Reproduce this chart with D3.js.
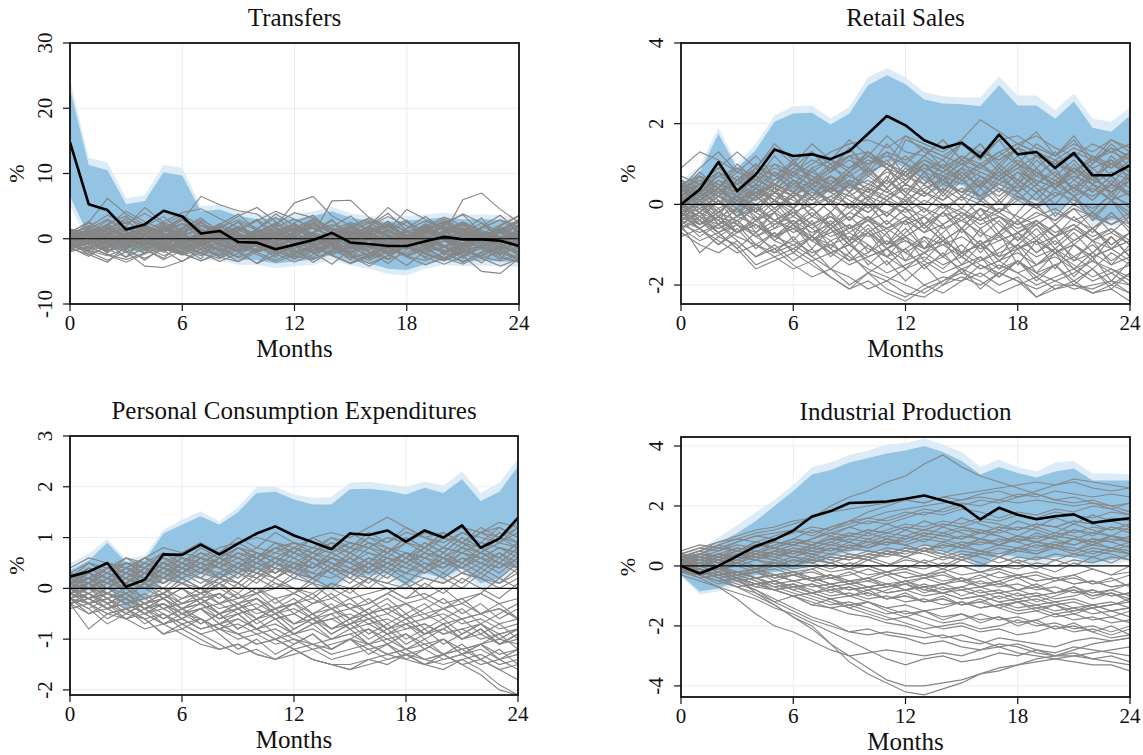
<!DOCTYPE html>
<html>
<head>
<meta charset="utf-8">
<script src="https://cdn.jsdelivr.net/npm/d3@7"></script>
<style>
  html, body { margin: 0; padding: 0; background: #fff; }
  svg { display: block; }
  text { font-family: "Liberation Serif", "Times New Roman", serif; fill: #111; }
</style>
</head>
<body>
<svg id="chart" width="1143" height="755"></svg>
<script>
// Horizon in months
const months = d3.range(0, 25);
const xTicks = [0, 6, 12, 18, 24];

// ---------- Transfers ----------
const transfersTicks = [30, 20, 10, 0, -10];
const transfersIrf = [14.8,5.3,4.4,1.4,2.2,4.3,3.4,0.8,1.2,-0.5,-0.6,-1.6,-0.9,-0.2,0.9,-0.6,-0.8,-1.1,-1.1,-0.4,0.3,-0.1,-0.1,-0.3,-1.1];
const transfersInnerUp = [23,11.3,10.5,5.3,5.8,10.2,9.7,4.2,4.5,3.5,3.0,3.2,3.0,3.5,4.2,3.2,2.8,2.6,2.8,3.0,3.3,3.0,3.0,2.9,2.5];
const transfersOuterUp = [24.5,12.4,11.7,6.2,6.7,11.3,10.9,5.0,5.2,4.2,3.7,3.9,3.7,4.2,4.9,3.9,3.5,3.3,3.5,3.7,4.0,3.7,3.7,3.6,3.2];
const transfersInnerLo = [6.5,0.5,-0.5,-2.0,-1.8,-1.0,-1.5,-2.5,-2.5,-3.2,-3.3,-3.8,-3.5,-3.2,-2.5,-3.4,-3.8,-4.6,-4.8,-3.9,-3.3,-3.5,-3.4,-3.5,-3.6];
const transfersOuterLo = [5.0,-0.5,-1.3,-2.8,-2.6,-1.8,-2.3,-3.3,-3.3,-4.0,-4.0,-4.5,-4.2,-4.0,-3.3,-4.1,-4.6,-5.4,-5.6,-4.6,-4.0,-4.2,-4.1,-4.2,-4.3];
const transfersPlacebo = [
  [0.5,1.2,0.3,-0.8,0.4,1.5,0.2,-0.5,1.1,0.3,-0.9,0.6,1.4,0.2,-0.7,0.8,1.6,0.4,-0.3,1.0,0.1,-1.2,0.5,1.3,0.2],
  [-1.0,-2.1,-0.8,-1.9,-3.0,-1.6,-2.4,-1.1,-2.8,-3.5,-2.0,-1.3,-2.6,-3.2,-1.8,-2.9,-2.2,-1.4,-2.7,-3.3,-2.1,-1.6,-2.8,-3.4,-2.5],
  [0.2,2.5,6.2,3.8,2.1,1.0,2.9,1.5,0.3,1.8,0.6,-0.5,1.2,2.4,0.8,-0.4,1.0,2.2,0.5,-0.8,0.9,1.7,0.2,-0.6,0.7],
  [-0.5,0.8,2.0,4.2,2.6,1.4,2.8,6.5,5.2,4.3,3.8,1.6,0.4,2.1,1.0,-0.6,0.9,1.8,0.3,1.4,2.6,0.9,-0.3,1.1,0.4],
  [1.0,0.0,-1.3,0.6,1.8,0.5,-0.9,0.8,2.3,0.9,-0.4,2.0,5.5,6.5,3.5,2.0,3.2,1.2,0.0,1.6,3.0,1.4,0.2,1.9,3.6],
  [-1.8,-1.2,-2.5,-3.6,-2.3,-1.0,-2.2,-3.4,-1.9,-0.8,-2.1,-3.3,-2.0,-1.1,-2.5,-3.7,-2.4,-1.2,-2.6,-1.5,-2.9,-3.9,-2.5,-1.3,-2.0],
  [0.8,2.0,0.6,1.9,4.8,2.5,1.1,2.4,0.9,-0.3,1.5,3.8,2.0,0.7,5.8,5.9,3.2,1.8,0.4,2.3,1.2,-0.2,1.6,2.9,1.0],
  [-0.3,-1.4,-0.2,1.0,-0.5,-1.7,-0.6,0.7,-0.8,-2.0,-3.8,-2.4,-1.0,-2.2,-0.9,0.4,-1.0,-2.3,-0.7,0.5,-1.1,-2.6,-5.0,-5.3,-3.0],
  [1.3,0.5,1.7,0.2,-1.0,0.4,1.6,2.9,1.3,0.1,1.4,0.5,-0.6,0.9,2.2,1.0,-0.2,1.3,4.5,3.0,1.5,0.3,1.8,0.8,-0.5],
  [-1.2,-0.4,-1.6,-2.8,-1.4,-0.3,-1.5,-0.6,0.5,-0.7,-1.9,-1.0,0.2,-1.1,-2.4,-1.3,-0.1,-1.4,-2.7,-1.5,-0.3,-1.6,-0.5,-1.8,-2.9],
  [0.0,0.9,-0.4,0.7,1.9,0.6,-0.6,0.8,1.7,3.5,4.8,2.6,1.0,2.3,0.9,-0.3,1.1,2.0,0.6,-0.5,0.8,6.0,7.0,4.5,2.5],
  [-0.7,-2.0,-3.3,-2.0,-4.2,-4.4,-3.4,-2.1,-3.5,-2.2,-0.9,-2.3,-3.6,-2.4,-1.1,-2.5,-3.8,-2.6,-1.3,-2.8,-3.9,-2.7,-1.4,-2.9,-3.6],
  [0.6,-0.3,0.9,2.6,1.2,0.0,1.4,2.5,1.0,-0.2,1.2,0.1,1.5,0.3,-0.9,0.6,2.0,4.8,2.6,1.2,-0.1,1.3,0.4,-0.8,0.9],
  [-0.9,0.2,-0.9,-2.1,-0.8,0.3,-1.0,-2.2,-1.0,0.1,-1.2,-2.5,-1.2,0.0,-1.3,-2.7,-4.2,-2.5,-1.0,-2.3,-3.3,-2.1,-0.9,-2.3,-1.1],
  [0.3,1.5,3.0,1.6,0.4,1.7,0.5,-0.6,0.7,1.9,0.6,-0.7,0.8,2.1,0.9,-0.4,0.9,2.3,1.1,-0.1,1.2,2.6,1.3,0.0,1.4],
  [-0.2,-1.0,0.2,-0.9,0.4,-0.8,-2.0,-0.8,0.5,-0.9,0.3,1.5,0.2,-1.1,0.1,1.3,0.0,-1.3,-0.1,1.1,-0.2,-1.5,-0.3,1.0,-0.4],
  [1.1,2.4,1.0,-0.1,1.2,2.6,4.0,4.6,3.1,1.7,0.4,1.8,3.0,1.6,0.2,1.5,2.8,1.4,0.1,1.3,2.7,1.2,0.0,1.4,2.6],
  [-1.5,-2.4,-1.3,-0.1,-1.2,-2.6,-1.4,-0.2,-1.6,-2.9,-1.7,-0.5,-1.8,-3.1,-1.9,-0.6,-2.0,-3.2,-2.1,-0.8,-2.2,-3.5,-2.2,-0.9,-2.4],
  [0.4,-0.6,0.6,-0.4,0.9,2.1,0.7,-0.5,0.8,-0.3,0.9,2.2,0.8,-0.6,0.7,1.9,0.5,-0.8,0.4,1.7,0.3,-1.0,0.2,1.6,0.1],
  [-0.6,0.5,1.6,0.3,-0.9,0.2,-1.0,0.1,1.3,0.0,-1.3,-0.2,-1.5,-0.3,0.8,-0.5,-1.7,-0.6,0.6,-0.7,-1.9,-0.8,0.4,-0.9,-2.1],
  [0.9,0.1,1.3,3.2,1.9,0.6,1.8,0.5,1.7,2.9,1.6,0.3,1.5,2.8,1.4,0.2,1.3,2.6,1.2,0.0,1.1,2.5,1.0,-0.2,0.9],
  [-1.1,-0.3,-1.5,-0.4,-1.6,-0.6,-1.8,-0.7,-1.9,-0.9,-2.1,-1.0,-2.3,-1.2,-2.4,-1.3,-2.6,-1.5,-2.7,-1.6,-2.9,-1.8,-3.0,-1.9,-3.2],
  [0.1,-0.8,-1.9,-1.2,-0.3,-1.4,-2.5,-1.6,-0.7,-1.8,-0.9,0.3,-0.6,-1.7,-0.8,0.2,-0.9,-2.0,-1.1,0.1,-1.0,-2.1,-1.2,-0.1,-1.3],
  [0.7,1.8,3.6,2.3,3.9,2.2,3.6,2.0,0.9,2.6,1.3,0.2,1.6,3.1,1.7,0.5,1.9,3.4,2.0,0.7,2.2,3.8,2.4,1.0,2.6],
  [-0.4,0.3,-0.6,0.4,-0.5,0.6,-0.4,0.7,-0.3,0.8,-0.2,0.9,-0.1,1.0,0.0,-1.0,0.1,-0.9,0.2,-0.8,0.3,-0.7,0.4,-0.6,0.5],
  [-1.4,-0.7,0.1,-0.9,-1.8,-0.8,0.3,-0.7,-1.9,-0.9,0.2,-0.8,-2.0,-1.1,0.0,-1.0,-2.1,-1.2,-0.1,-1.1,-2.2,-1.3,-0.2,-1.2,-2.3],
  [0.0,1.0,2.2,1.1,0.0,1.2,2.4,1.3,0.1,1.4,2.8,4.2,3.0,1.6,0.3,1.7,3.1,1.8,0.5,1.9,3.3,2.0,0.7,2.1,3.5],
  [-0.8,-1.6,-0.5,0.6,-0.4,-1.5,-0.3,0.8,-0.2,-1.4,-0.1,1.0,0.0,-1.3,0.1,1.2,0.2,-1.2,0.3,1.4,0.4,-1.1,0.5,1.6,0.6],
  [1.5,0.8,-0.4,0.6,1.7,0.7,-0.5,0.5,1.8,0.6,-0.6,0.4,1.9,0.5,-0.7,0.3,2.0,0.4,-0.8,0.2,2.1,0.3,-0.9,0.1,2.2],
  [-2.0,-1.3,-2.4,-3.2,-2.2,-1.1,-2.3,-3.4,-2.3,-1.2,-2.4,-3.6,-2.5,-1.3,-2.6,-3.8,-2.7,-1.4,-2.8,-4.0,-2.9,-1.5,-3.0,-4.2,-3.1],
  [0.3,-0.5,0.8,1.8,0.7,-0.3,1.0,2.1,0.9,-0.2,1.1,2.3,4.0,3.2,1.3,2.5,1.4,0.2,1.5,2.7,1.6,0.4,1.7,2.9,1.8],
  [-0.1,0.6,-0.3,-1.3,-0.4,0.5,-0.5,-1.5,-0.6,0.4,-0.7,-1.7,-0.8,0.3,-0.9,-1.9,-1.0,0.2,-1.1,-2.1,-1.2,0.1,-1.3,-2.3,-1.4],
  [0.2,-0.9,1.1,-0.6,0.8,-1.2,0.5,1.6,-0.4,0.9,-1.1,0.3,1.7,-0.2,-1.6,0.6,1.2,-0.9,0.4,-1.4,0.7,1.5,-0.3,0.2,-1.0],
  [-0.5,0.7,-1.3,0.4,1.6,-0.2,-1.4,0.6,-0.8,1.3,0.1,-1.5,0.8,-0.6,1.1,-1.0,0.3,1.4,-0.7,0.9,-1.2,0.2,1.0,-0.8,0.5],
  [0.9,1.6,0.2,-1.1,0.5,1.9,0.7,-0.6,1.5,0.2,-0.9,1.2,2.3,0.8,-0.5,1.6,0.4,-1.0,1.1,2.0,0.6,-0.7,1.3,0.3,-0.4],
  [-1.3,-0.2,-1.8,-0.7,0.4,-1.1,-2.3,-0.9,0.2,-1.5,-0.4,-1.9,-0.8,0.3,-1.2,-2.2,-1.0,0.1,-1.6,-0.5,-2.0,-1.1,0.0,-1.7,-0.6],
  [0.0,0.5,-0.3,0.9,-0.5,0.3,1.2,-0.1,0.7,-0.6,0.4,1.0,-0.3,0.6,-0.8,0.2,0.9,-0.4,0.5,-0.9,0.1,0.8,-0.5,0.4,-0.2],
  [0.6,-0.4,-1.5,0.2,1.3,-0.3,0.9,2.0,0.5,-0.8,0.8,1.8,0.3,-1.0,0.6,1.7,0.1,-1.2,0.4,1.5,-0.1,-1.3,0.2,1.4,-0.2],
  [-0.8,0.3,1.4,0.1,-1.0,-2.1,-0.7,0.5,-0.9,-2.0,-0.6,0.6,-0.8,-2.2,-1.0,0.3,-1.1,-2.4,-1.2,0.1,-1.3,-2.5,-1.4,0.0,-1.5],
  [0.3,1.1,-0.2,-1.0,0.6,1.4,0.0,-1.1,0.5,1.6,0.2,-1.2,0.4,1.8,0.4,-1.3,0.3,1.9,0.5,-1.4,0.2,2.1,0.6,-1.5,0.1],
  [-0.2,-1.3,-0.4,0.7,-0.6,-1.6,-0.3,0.9,-0.5,-1.8,-0.2,1.1,-0.4,-1.9,-0.1,1.2,-0.3,-2.1,0.0,1.3,-0.2,-2.2,0.1,1.4,-0.1],
  [1.2,0.4,1.8,0.6,-0.5,1.0,2.2,0.9,-0.3,1.3,0.1,-0.8,1.2,2.5,1.0,-0.2,1.4,0.3,-0.9,1.1,2.4,0.8,-0.4,1.5,0.6],
  [-0.6,-1.7,-0.9,0.2,-1.1,-0.2,-1.6,-2.6,-1.3,-0.3,-1.7,-0.6,0.5,-0.9,-2.1,-1.0,0.2,-1.3,-2.4,-1.1,0.1,-1.5,-2.7,-1.3,-0.2],
  [0.4,0.0,0.7,1.5,0.3,-0.7,0.6,-0.4,0.9,1.8,0.5,-0.6,0.8,-0.2,1.1,2.0,0.7,-0.5,1.0,-0.1,1.3,2.2,0.8,-0.4,1.2],
  [-0.9,-1.8,-2.6,-1.5,-0.6,-1.9,-1.0,-2.3,-3.0,-1.7,-0.8,-2.0,-3.1,-1.9,-0.9,-2.3,-3.3,-2.0,-1.0,-2.4,-3.4,-2.1,-1.1,-2.6,-3.5],
  [0.1,0.8,0.2,-0.5,0.4,-0.3,0.6,1.3,0.3,-0.4,0.7,-0.1,0.9,1.6,0.5,-0.2,0.8,0.0,1.0,1.8,0.6,-0.1,0.9,0.1,1.2],
  [-0.3,0.4,-0.6,-1.4,-0.5,0.6,-0.2,-1.1,0.1,0.9,-0.3,-1.3,-0.1,0.8,-0.4,-1.5,-0.2,0.7,-0.5,-1.6,-0.3,0.6,-0.6,-1.8,-0.4],
  [0.7,-0.1,0.5,1.2,2.1,0.9,-0.2,0.6,1.4,0.4,-0.5,0.8,1.6,0.5,-0.4,0.9,1.8,0.6,-0.3,1.0,1.9,0.7,-0.2,1.1,2.0],
  [-1.6,-0.8,-1.9,-1.1,-2.2,-1.4,-0.5,-1.7,-2.6,-1.5,-0.6,-1.8,-2.8,-1.6,-0.7,-2.0,-3.0,-1.8,-0.8,-2.1,-3.1,-1.9,-0.9,-2.2,-3.2],
  [0.5,1.4,0.7,-0.2,0.9,0.1,-0.8,0.4,1.3,0.2,-0.7,0.5,1.5,0.4,-0.6,0.6,1.6,0.5,-0.5,0.8,1.8,0.6,-0.4,0.9,1.9],
  [-0.1,-0.6,0.3,-0.8,-0.1,-1.0,0.2,-0.7,-1.6,-0.5,0.4,-0.6,-1.5,-0.3,0.5,-0.4,-1.4,-0.2,0.6,-0.3,-1.3,-0.1,0.7,-0.2,-1.2],
  [0.8,0.2,-0.7,0.5,1.5,0.3,-0.6,0.8,1.9,0.6,-0.5,1.0,2.1,0.8,-0.3,1.2,2.4,1.0,-0.1,1.4,2.6,1.1,0.0,1.5,2.8],
  [0.4,-1.5,2.1,0.3,-2.2,1.5,3.1,-0.4,-2.6,1.2,2.8,0.1,-2.4,0.9,3.0,-0.3,-2.8,1.4,2.9,0.2,-2.5,1.1,3.2,-0.6,-2.7],
  [-1.0,1.8,-0.6,-2.9,0.5,2.4,-1.3,-3.1,0.7,2.6,-1.0,-2.9,0.9,2.9,-1.2,-3.3,0.6,2.7,-0.9,-3.0,1.0,2.5,-1.4,-3.2,0.4],
  [0.8,2.7,0.4,-1.7,1.9,3.4,1.0,-1.2,2.2,3.8,1.2,-1.0,2.5,3.6,0.8,-1.5,2.0,3.9,1.3,-1.1,2.4,3.7,0.9,-1.6,2.1],
  [-0.6,-2.4,-3.6,-1.1,0.6,-1.8,-3.5,-1.5,0.8,-2.0,-3.8,-1.4,0.5,-2.1,-3.9,-1.6,0.3,-2.3,-4.1,-1.8,0.4,-2.0,-3.7,-1.3,0.6],
  [1.4,0.2,2.3,3.5,1.1,-0.8,1.7,3.2,0.9,-1.1,1.5,3.3,1.2,-0.9,1.8,3.5,1.0,-1.2,1.6,3.4,1.3,-1.0,1.9,3.6,1.1],
  [-1.7,-0.3,-2.2,0.4,-1.5,-3.0,-0.6,1.3,-1.3,-2.8,-0.4,1.5,-1.1,-2.9,-0.7,1.2,-1.4,-3.1,-0.5,1.4,-1.2,-3.0,-0.8,1.1,-1.5],
  [0.2,1.3,-1.0,1.8,-0.8,2.2,-0.5,-2.3,0.9,2.6,-0.2,-2.1,1.1,2.4,-0.4,-2.4,0.8,2.7,-0.1,-2.2,1.0,2.5,-0.3,-2.5,0.7],
  [-0.4,-1.9,0.6,-1.4,-3.3,-1.2,1.0,-0.9,-2.9,-0.8,1.2,-1.1,-3.1,-0.7,1.1,-1.0,-3.0,-0.9,1.3,-1.2,-3.2,-0.6,1.0,-1.3,-3.4],
  [1.0,-0.4,1.4,2.9,0.5,-1.3,1.0,2.7,0.3,-1.5,0.8,2.5,0.1,-1.7,0.6,2.3,-0.1,-1.9,0.4,2.1,-0.3,-2.1,0.2,1.9,-0.5],
  [-0.2,0.9,2.8,1.2,-0.6,1.6,3.3,1.1,-0.9,1.3,3.0,0.8,-1.1,1.0,2.8,0.6,-1.3,0.9,2.6,0.4,-1.4,0.7,2.4,0.2,-1.6],
  [-1.3,-2.7,-1.0,0.9,-1.6,-3.2,-1.8,0.2,-1.9,-3.5,-1.5,0.4,-1.7,-3.6,-1.9,0.1,-2.0,-3.8,-1.6,0.3,-1.8,-3.7,-2.0,0.0,-2.1],
  [0.6,-0.7,-2.0,0.2,1.9,-0.4,-2.2,0.5,2.2,-0.2,-2.0,0.7,2.4,0.0,-1.9,0.9,2.6,0.2,-1.7,1.0,2.7,0.3,-1.6,1.2,2.9]
];

// ---------- Retail Sales ----------
const retailTicks = [4, 2, 0, -2];
const retailIrf = [0.0,0.37,1.05,0.33,0.74,1.36,1.2,1.24,1.12,1.32,1.75,2.19,1.96,1.59,1.4,1.53,1.17,1.73,1.24,1.3,0.9,1.27,0.72,0.72,0.97];
const retailInnerUp = [0.5,0.8,1.75,0.9,1.35,2.05,2.25,2.27,1.98,2.25,2.95,3.2,2.98,2.6,2.5,2.48,2.43,2.95,2.45,2.45,2.12,2.55,1.9,1.8,2.2];
const retailOuterUp = [0.6,0.95,1.9,1.0,1.5,2.2,2.43,2.45,2.13,2.42,3.15,3.38,3.15,2.77,2.68,2.65,2.65,3.17,2.7,2.7,2.33,2.75,2.12,2.05,2.4];
const retailInnerLo = [-0.1,0.0,0.3,-0.2,0.1,0.6,0.3,0.3,0.3,0.4,0.7,1.1,0.9,0.6,0.4,0.5,0.1,0.5,0.1,0.1,-0.2,0.1,-0.4,-0.4,-0.3];
const retailOuterLo = [-0.25,-0.15,0.15,-0.35,-0.05,0.45,0.15,0.15,0.15,0.25,0.55,0.95,0.75,0.45,0.25,0.35,-0.05,0.35,-0.05,-0.05,-0.35,-0.05,-0.55,-0.55,-0.45];
const retailPlacebo = [
  [0.9,1.3,1.1,0.8,0.6,0.9,0.7,1.0,1.3,1.5,1.6,1.4,1.7,1.5,1.3,1.6,2.1,1.8,1.5,1.3,1.0,1.2,0.9,1.1,0.8],
  [-0.5,-1.2,-0.8,-1.0,-1.5,-1.3,-1.6,-1.4,-1.8,-2.1,-1.7,-1.9,-1.6,-2.0,-1.8,-1.9,-1.5,-1.7,-1.9,-2.3,-2.0,-2.0,-2.2,-2.1,-2.4],
  [0.3,0.5,0.2,0.6,0.4,0.8,0.5,0.9,1.1,0.8,1.3,1.0,1.7,1.3,1.1,1.5,1.2,1.6,1.7,1.4,1.2,1.5,1.3,1.6,1.4],
  [-0.2,-0.6,-0.3,-0.7,-0.5,-0.9,-1.1,-0.8,-1.2,-1.0,-1.4,-1.7,-1.5,-1.3,-1.6,-1.2,-1.5,-1.8,-1.4,-1.7,-1.5,-1.3,-1.6,-1.2,-1.5],
  [0.5,0.3,0.7,0.5,0.9,1.5,1.1,1.3,1.0,1.2,1.3,0.9,1.2,0.8,1.1,0.7,1.0,0.6,0.9,0.5,0.8,0.4,0.7,0.3,0.6],
  [0.0,-0.3,0.1,-0.2,0.2,-0.1,0.3,0.0,0.4,0.1,-0.2,0.2,-0.1,0.3,0.0,-0.3,0.1,-0.2,0.2,-0.1,-0.4,0.0,-0.3,0.1,-0.2],
  [-0.7,-1.0,-1.2,-0.9,-1.3,-1.1,-1.5,-1.8,-1.6,-2.0,-1.7,-2.1,-2.3,-2.0,-2.2,-1.9,-1.7,-2.0,-1.8,-2.3,-2.1,-1.9,-2.2,-2.0,-2.2],
  [0.2,0.6,0.4,0.8,0.6,0.4,0.7,0.5,0.8,1.1,0.8,1.0,0.7,0.5,0.8,0.6,0.9,0.7,1.0,0.8,0.6,0.9,0.7,1.0,0.8],
  [-0.4,-0.2,-0.6,-0.4,-0.8,-0.6,-0.4,-0.7,-0.5,-0.9,-0.7,-1.0,-0.8,-1.1,-0.9,-1.2,-1.0,-0.8,-1.1,-0.9,-1.2,-1.0,-1.3,-1.1,-0.9],
  [0.1,0.3,0.0,0.2,0.5,0.3,0.6,0.4,0.7,0.5,0.3,0.6,1.6,1.4,1.2,1.5,1.3,1.1,1.4,1.2,1.0,1.3,1.1,1.4,1.2],
  [-0.6,-0.9,-0.7,-1.1,-1.6,-1.4,-1.2,-1.5,-1.8,-2.1,-1.9,-2.2,-2.4,-2.1,-1.9,-1.6,-1.8,-1.5,-1.7,-2.0,-1.8,-1.6,-1.9,-1.7,-2.0],
  [0.4,0.2,0.5,0.3,0.1,0.4,0.2,0.5,0.7,0.4,0.6,0.3,0.1,0.4,0.6,0.3,0.5,0.8,0.6,0.3,0.5,0.2,0.4,0.1,0.3],
  [-0.1,0.2,0.4,0.1,-0.2,-0.5,-0.3,-0.6,-0.9,-0.7,-1.0,-1.3,-1.1,-0.8,-1.0,-1.3,-1.6,-1.4,-1.7,-1.5,-1.2,-1.5,-1.8,-1.6,-1.9],
  [0.6,0.4,0.7,0.9,0.7,0.5,0.8,1.1,0.9,1.2,1.0,1.3,1.1,1.4,1.2,1.0,1.3,1.1,1.4,1.2,1.0,0.8,1.1,1.3,1.5],
  [-0.3,-0.5,-0.2,-0.4,-0.1,-0.4,-0.7,-0.5,-0.8,-0.6,-0.3,-0.6,-0.4,-0.7,-0.5,-0.2,-0.5,-0.3,-0.6,-0.4,-0.7,-0.5,-0.8,-0.6,-0.9],
  [0.2,0.0,0.3,0.6,0.8,0.6,0.9,0.7,0.5,0.8,1.1,0.9,0.7,1.0,0.8,1.1,0.9,1.2,1.5,1.7,1.4,1.2,1.5,1.3,1.1],
  [-0.8,-0.6,-0.9,-1.2,-1.0,-1.3,-1.1,-1.4,-1.2,-1.5,-1.3,-1.1,-1.4,-1.2,-1.5,-1.3,-1.6,-1.4,-1.2,-1.5,-1.3,-1.6,-1.4,-1.7,-1.5],
  [0.0,0.2,-0.1,0.1,0.3,0.1,-0.2,0.0,0.2,0.5,0.3,0.1,0.4,0.2,0.5,0.3,0.1,0.4,0.2,0.0,0.3,0.1,-0.1,0.2,0.0],
  [-0.2,-0.4,-0.6,-0.3,-0.5,-0.8,-0.6,-0.9,-1.2,-1.0,-1.3,-1.1,-0.9,-1.2,-1.0,-0.8,-1.1,-0.9,-0.7,-1.0,-0.8,-0.6,-0.9,-0.7,-1.0],
  [0.3,0.1,0.4,0.2,0.0,0.3,0.1,-0.1,0.2,0.0,-0.2,0.1,-0.1,-0.3,0.0,-0.2,-0.4,-0.1,-0.3,-0.5,-0.2,-0.4,-0.6,-0.3,-0.5],
  [-0.5,-0.7,-0.5,-0.8,-1.0,-1.2,-1.0,-1.3,-1.6,-1.8,-2.1,-1.9,-2.2,-2.3,-2.0,-1.8,-2.0,-1.7,-1.9,-2.1,-1.9,-2.1,-2.0,-1.9,-2.0],
  [0.1,0.3,0.6,0.4,0.2,0.5,0.3,0.1,0.4,0.7,0.5,0.8,0.6,0.9,0.7,1.0,0.8,0.6,0.9,1.2,1.0,0.8,1.1,0.9,1.2],
  [-0.1,-0.3,-0.5,-0.3,-0.1,-0.4,-0.2,-0.5,-0.3,-0.6,-0.4,-0.2,-0.5,-0.3,-0.6,-0.4,-0.7,-0.9,-0.7,-0.5,-0.8,-0.6,-0.9,-1.1,-0.9],
  [0.4,0.6,0.3,0.5,0.8,1.0,0.8,0.6,0.9,0.7,1.0,1.2,1.0,0.8,0.6,0.9,0.7,0.5,0.8,0.6,0.4,0.7,0.5,0.3,0.6],
  [-0.3,-0.1,-0.4,-0.7,-0.5,-0.8,-1.0,-0.8,-1.1,-1.4,-1.2,-0.9,-1.2,-1.5,-1.3,-1.6,-1.4,-1.2,-1.0,-1.3,-1.1,-1.4,-1.2,-1.5,-1.3],
  [0.2,0.4,0.2,0.0,0.3,0.5,0.3,0.6,0.4,0.2,0.5,0.3,0.6,0.9,0.7,0.5,0.8,0.6,0.4,0.7,0.5,0.8,0.6,0.4,0.7],
  [-0.6,-0.4,-0.7,-0.5,-0.8,-1.1,-0.9,-1.2,-1.0,-1.3,-1.6,-1.8,-2.0,-2.2,-1.9,-1.7,-1.9,-2.2,-2.0,-1.8,-2.1,-2.0,-2.1,-1.9,-2.2],
  [0.1,-0.1,0.2,0.0,-0.2,0.1,-0.1,0.2,0.4,0.2,0.0,-0.2,0.1,-0.1,-0.3,-0.1,-0.4,-0.2,-0.5,-0.3,-0.1,-0.4,-0.2,-0.5,-0.3],
  [0.7,0.5,0.8,0.6,0.9,0.7,1.0,0.8,1.1,0.9,1.2,1.0,0.8,1.1,0.9,1.2,1.0,1.3,1.5,1.3,1.1,1.4,1.2,1.0,1.3],
  [-0.4,-0.6,-0.3,-0.5,-0.7,-0.4,-0.6,-0.3,-0.5,-0.2,-0.4,-0.6,-0.3,-0.5,-0.2,-0.4,-0.1,-0.3,-0.5,-0.2,-0.4,-0.1,-0.3,-0.5,-0.2],
  [0.0,-0.2,-0.4,-0.7,-0.5,-0.8,-0.6,-0.9,-0.7,-0.5,-0.8,-0.6,-0.9,-1.1,-0.9,-1.2,-1.0,-1.3,-1.1,-0.9,-1.2,-1.0,-1.3,-1.1,-1.4],
  [0.3,0.5,0.3,0.1,0.4,0.2,0.0,0.3,0.1,-0.1,0.2,0.0,-0.2,0.1,-0.1,0.2,0.0,-0.2,0.1,-0.1,0.2,0.4,0.2,0.5,0.3],
  [-0.2,0.0,-0.3,-0.1,-0.4,-0.2,-0.5,-0.8,-1.0,-0.8,-1.1,-1.3,-1.6,-1.4,-1.7,-1.5,-1.3,-1.6,-1.4,-1.7,-1.9,-1.7,-1.4,-1.6,-1.8],
  [0.5,0.7,0.5,0.3,0.6,0.4,0.2,0.5,0.3,0.6,0.4,0.2,0.5,0.3,0.1,0.4,0.2,0.5,0.3,0.6,0.4,0.7,0.5,0.8,0.6],
  [0.6,0.2,0.8,0.3,0.9,0.4,1.1,0.5,0.9,1.4,0.8,1.3,0.7,1.2,1.6,1.1,1.5,0.9,1.4,1.8,1.2,1.6,1.0,1.5,1.1],
  [-0.3,0.1,-0.5,-0.1,-0.7,-0.2,-0.9,-0.4,-1.1,-0.5,-1.2,-0.7,-1.4,-0.8,-1.3,-0.6,-1.2,-0.7,-1.5,-0.9,-1.6,-1.0,-1.4,-0.8,-1.3],
  [0.2,-0.2,0.3,-0.3,0.4,0.0,0.6,0.1,0.5,-0.1,0.4,0.9,0.3,0.8,0.2,0.7,0.1,0.6,1.0,0.5,0.9,0.3,0.8,0.2,0.7],
  [-0.1,0.3,-0.2,0.2,-0.4,0.1,-0.5,-0.1,-0.6,-0.2,0.2,-0.3,0.1,-0.5,0.0,-0.6,-0.1,-0.7,-0.2,0.3,-0.3,0.2,-0.4,0.1,-0.5],
  [0.4,0.0,-0.4,0.1,-0.3,-0.8,-0.4,-0.9,-0.5,-1.0,-0.6,-1.1,-0.7,-0.3,-0.8,-1.3,-0.9,-1.4,-1.0,-0.6,-1.1,-1.6,-1.2,-0.8,-1.3],
  [-0.5,-0.2,0.2,-0.1,0.4,0.1,0.6,0.2,0.7,0.3,0.9,0.5,1.0,0.6,0.3,0.8,0.4,0.9,0.5,1.1,0.7,0.4,0.9,0.5,1.0],
  [0.1,0.5,0.1,-0.3,0.2,-0.2,0.3,-0.1,-0.5,0.0,-0.4,0.1,-0.3,-0.7,-0.2,-0.6,-0.1,-0.5,-0.9,-0.4,-0.8,-0.3,-0.7,-0.2,-0.6],
  [0.0,-0.4,-0.8,-0.5,-1.0,-0.7,-1.2,-0.8,-1.3,-0.9,-1.5,-1.1,-1.6,-1.2,-0.8,-1.3,-0.9,-1.4,-1.0,-1.5,-1.1,-0.7,-1.2,-0.8,-1.3],
  [0.3,0.7,0.4,0.9,0.5,1.0,0.6,0.2,0.7,0.3,0.8,0.4,0.9,0.5,1.0,0.6,0.2,0.7,0.3,0.8,0.4,0.9,0.5,0.1,0.6],
  [-0.2,0.1,0.4,0.0,0.5,0.1,-0.3,0.2,-0.2,0.3,-0.1,0.4,0.0,0.5,0.1,0.6,0.2,-0.2,0.3,-0.1,0.4,0.0,0.5,0.1,-0.3],
  [0.5,0.1,0.4,0.0,0.3,-0.1,0.2,-0.3,0.1,-0.4,0.0,-0.5,-0.1,-0.6,-0.2,-0.7,-0.3,-0.8,-0.4,-0.9,-0.5,-1.0,-0.6,-1.1,-0.7],
  [-0.4,-0.8,-0.5,-0.9,-1.3,-1.0,-1.4,-1.1,-1.6,-1.2,-1.7,-1.4,-1.9,-1.5,-2.0,-1.6,-2.1,-1.7,-1.4,-1.8,-1.5,-1.9,-1.6,-2.0,-1.7],
  [0.1,0.4,0.8,0.5,0.2,0.6,1.0,0.7,0.3,0.8,1.2,0.9,0.5,1.0,0.6,0.2,0.7,0.3,0.8,0.4,0.0,0.5,0.1,0.6,0.2],
  [-0.1,-0.5,-0.2,0.2,-0.2,0.3,-0.1,0.4,0.0,-0.4,0.1,-0.3,0.2,-0.2,0.3,-0.1,0.4,0.0,0.5,0.1,0.6,0.2,-0.2,0.3,-0.1],
  [0.2,0.0,0.3,0.7,0.4,0.1,0.5,0.2,0.6,0.3,0.7,0.4,0.8,1.2,0.9,0.6,1.0,0.7,1.1,0.8,0.5,0.9,0.6,1.0,0.7],
  [-0.3,-0.6,-1.0,-0.7,-0.4,-0.8,-0.5,-0.9,-0.6,-1.0,-0.7,-1.1,-0.8,-0.5,-0.9,-0.6,-1.0,-0.7,-1.1,-0.8,-1.2,-0.9,-0.6,-1.0,-0.7],
  [0.0,0.3,0.0,0.4,0.1,0.5,0.2,0.6,0.3,0.0,0.4,0.1,0.5,0.2,0.6,0.3,0.7,0.4,0.1,0.5,0.2,0.6,0.3,0.7,0.4],
  [-0.6,-0.3,-0.7,-0.4,-0.8,-0.5,-0.2,-0.6,-0.3,-0.7,-0.4,-0.8,-1.2,-0.9,-1.3,-1.0,-1.4,-1.1,-0.8,-1.2,-0.9,-1.3,-1.0,-1.4,-1.1],
  [0.4,0.1,-0.2,0.2,-0.1,0.3,0.0,0.4,0.1,0.5,0.2,0.6,0.3,0.0,0.4,0.1,0.5,0.2,0.6,0.3,0.7,0.4,0.1,0.5,0.2],
  [0.0,-0.2,0.1,-0.3,0.0,-0.4,-0.1,-0.5,-0.2,-0.6,-0.3,-0.7,-0.4,-0.1,-0.5,-0.2,-0.6,-0.3,-0.7,-0.4,-0.8,-0.5,-0.9,-0.6,-1.0],
  [0.2,0.5,0.9,0.6,1.0,0.7,0.4,0.8,0.5,0.9,1.3,1.0,0.7,1.1,0.8,1.2,0.9,1.3,1.0,0.7,1.1,0.8,1.2,0.9,1.3],
  [-0.2,-0.5,-0.3,-0.7,-0.4,-0.1,-0.5,-0.2,-0.6,-0.3,-0.7,-0.4,-0.8,-0.5,-0.9,-0.6,-1.0,-0.7,-0.4,-0.8,-0.5,-0.9,-0.6,-1.0,-0.7],
  [0.3,0.8,0.4,1.0,0.6,1.2,0.7,1.3,0.8,1.4,0.9,1.5,1.0,1.4,0.9,1.5,1.1,1.6,1.0,1.5,1.2,1.7,1.1,1.6,1.3],
  [-0.1,0.4,0.0,0.6,0.2,0.8,0.3,0.9,0.4,0.8,0.3,0.9,0.5,1.0,0.6,1.1,0.5,1.0,0.6,1.2,0.7,1.1,0.6,1.2,0.8],
  [0.1,-0.4,0.1,-0.5,0.0,-0.6,-0.1,-0.8,-0.2,-0.9,-0.3,-1.0,-0.4,-1.1,-0.5,-1.2,-0.6,-1.3,-0.7,-1.2,-0.8,-1.4,-0.9,-1.5,-1.0],
  [0.4,0.9,1.3,0.8,1.2,0.7,1.1,0.6,1.0,0.5,0.9,0.4,0.8,0.3,0.7,0.2,0.6,0.1,0.5,0.9,0.4,0.8,0.3,0.7,0.2],
  [-0.3,0.2,-0.3,0.3,-0.2,0.4,-0.1,0.5,0.0,0.6,0.1,0.7,0.2,0.8,0.3,0.9,0.4,0.8,0.3,0.9,0.4,1.0,0.5,1.1,0.6],
  [0.0,-0.5,-0.1,-0.7,-0.3,-0.9,-0.5,-1.1,-0.6,-1.2,-0.7,-1.3,-0.8,-1.4,-0.9,-1.5,-1.0,-1.6,-1.1,-1.7,-1.2,-1.8,-1.3,-1.9,-1.4],
  [0.2,0.7,0.2,0.6,1.0,0.5,0.9,1.3,0.8,1.2,0.7,1.1,0.6,1.0,0.5,0.9,1.3,0.8,1.2,0.7,1.1,0.6,1.0,1.4,0.9],
  [-0.2,-0.6,-1.0,-0.6,-1.1,-0.7,-1.2,-0.8,-0.4,-0.9,-0.5,-1.0,-0.6,-1.1,-0.7,-0.3,-0.8,-0.4,-0.9,-0.5,-1.0,-0.6,-0.2,-0.7,-0.3],
  [0.5,0.1,0.6,0.2,0.7,0.3,0.8,0.4,0.0,0.5,0.1,0.6,0.2,0.7,0.3,0.8,0.4,0.9,0.5,0.1,0.6,0.2,0.7,0.3,0.8],
  [-0.4,0.0,-0.5,-0.1,-0.6,-0.2,0.2,-0.3,0.1,-0.4,0.0,-0.5,-0.1,-0.6,-0.2,0.2,-0.3,0.1,-0.4,0.0,-0.5,-0.1,-0.6,-0.2,-0.7],
  [0.1,0.5,0.9,1.3,0.9,1.4,1.0,1.5,1.1,1.6,1.2,1.7,1.3,1.2,1.6,1.1,1.5,1.0,1.4,0.9,1.3,0.8,1.2,0.7,1.1],
  [-0.5,-0.2,-0.7,-1.1,-0.7,-1.2,-0.8,-1.3,-0.9,-1.4,-1.0,-1.5,-1.1,-1.6,-1.2,-1.7,-1.3,-1.8,-1.4,-1.9,-1.5,-2.0,-1.6,-2.1,-1.7]
];

// ---------- Personal Consumption Expenditures ----------
const pceTicks = [3, 2, 1, 0, -1, -2];
const pceIrf = [0.23,0.33,0.5,0.03,0.17,0.67,0.66,0.86,0.67,0.88,1.08,1.22,1.04,0.91,0.77,1.08,1.05,1.14,0.92,1.14,1.0,1.24,0.8,0.98,1.39];
const pceInnerUp = [0.35,0.55,0.9,0.52,0.55,1.08,1.25,1.42,1.25,1.5,1.88,1.9,1.75,1.65,1.65,1.95,1.96,1.92,1.85,1.98,1.88,2.15,1.72,1.9,2.4];
const pceOuterUp = [0.5,0.68,0.97,0.58,0.65,1.15,1.35,1.52,1.32,1.6,2.0,2.0,1.85,1.78,1.8,2.08,2.1,2.05,2.0,2.1,2.02,2.3,1.88,2.08,2.55];
const pceInnerLo = [0.05,0.0,0.05,-0.4,-0.2,0.2,0.15,0.3,0.2,0.3,0.35,0.45,0.3,0.15,0.0,0.3,0.25,0.3,0.05,0.3,0.2,0.4,0.1,0.2,0.5];
const pceOuterLo = [-0.05,-0.1,-0.05,-0.5,-0.3,0.1,0.05,0.2,0.1,0.2,0.25,0.35,0.2,0.05,-0.1,0.2,0.15,0.2,-0.05,0.2,0.1,0.3,0.0,0.1,0.4];
const pcePlacebo = [
  [0.4,0.6,0.5,0.4,0.6,0.8,0.7,0.6,0.8,0.9,1.0,0.9,0.8,1.0,1.1,1.0,1.2,1.4,1.2,1.0,1.1,0.9,1.1,1.3,1.2],
  [-0.3,-0.8,-0.5,-0.4,-0.6,-0.9,-0.7,-0.9,-1.1,-1.3,-1.2,-1.4,-1.2,-1.4,-1.5,-1.6,-1.4,-1.5,-1.3,-1.4,-1.5,-1.4,-1.6,-1.9,-2.1],
  [0.1,0.2,0.1,0.3,0.2,0.4,0.3,0.5,0.4,0.6,0.5,0.7,0.6,0.8,0.7,0.9,0.8,1.0,0.9,1.1,1.0,1.2,1.1,1.2,1.0],
  [-0.1,-0.2,-0.4,-0.3,-0.5,-0.4,-0.6,-0.8,-0.7,-0.9,-1.1,-1.0,-1.2,-1.1,-1.3,-1.2,-1.1,-1.3,-1.2,-1.4,-1.3,-1.2,-1.4,-1.6,-1.8],
  [0.2,0.3,0.2,0.4,0.3,0.2,0.4,0.3,0.5,0.4,0.3,0.5,0.4,0.6,0.5,0.4,0.6,0.5,0.7,0.6,0.5,0.7,0.6,0.8,0.7],
  [0.0,-0.1,0.1,0.0,-0.2,-0.1,0.1,-0.1,-0.3,-0.2,0.0,-0.2,-0.1,-0.3,-0.2,-0.4,-0.3,-0.1,-0.3,-0.2,-0.4,-0.3,-0.5,-0.4,-0.6],
  [-0.2,-0.4,-0.7,-0.5,-0.6,-0.9,-0.8,-1.0,-1.2,-1.1,-1.3,-1.4,-1.2,-1.4,-1.5,-1.5,-1.4,-1.3,-1.4,-1.5,-1.3,-1.5,-1.7,-2.0,-2.1],
  [0.3,0.2,0.4,0.5,0.4,0.6,0.5,0.7,0.6,0.8,0.7,0.6,0.8,0.7,0.9,0.8,1.0,0.9,1.1,1.0,0.9,1.1,1.0,0.9,1.1],
  [-0.1,0.0,-0.2,-0.1,-0.3,-0.2,-0.4,-0.3,-0.5,-0.4,-0.6,-0.5,-0.7,-0.6,-0.8,-0.7,-0.6,-0.8,-0.7,-0.9,-0.8,-1.0,-0.9,-1.1,-1.0],
  [0.1,0.0,0.2,0.1,0.3,0.2,0.1,0.3,0.2,0.4,0.3,0.2,0.4,0.3,0.2,0.4,0.3,0.5,0.4,0.3,0.5,0.4,0.6,0.5,0.4],
  [-0.3,-0.5,-0.4,-0.6,-0.5,-0.7,-0.6,-0.8,-0.7,-0.9,-0.8,-1.0,-0.9,-1.1,-1.0,-0.9,-1.1,-1.0,-1.2,-1.1,-1.3,-1.2,-1.1,-1.3,-1.2],
  [0.2,0.4,0.3,0.5,0.4,0.3,0.5,0.4,0.6,0.5,0.7,0.6,0.5,0.4,0.6,0.5,0.7,0.6,0.5,0.7,0.6,0.8,0.7,0.9,0.8],
  [0.0,0.1,0.0,-0.1,0.1,0.0,-0.2,-0.1,0.0,-0.2,-0.1,0.1,0.0,-0.1,0.1,0.0,0.2,0.1,0.0,0.2,0.1,0.3,0.2,0.1,0.3],
  [-0.2,-0.1,-0.3,-0.2,-0.4,-0.3,-0.5,-0.4,-0.6,-0.5,-0.4,-0.6,-0.5,-0.7,-0.6,-0.8,-0.7,-0.9,-0.8,-0.7,-0.9,-0.8,-1.0,-0.9,-0.8],
  [0.3,0.5,0.4,0.6,0.5,0.7,0.6,0.5,0.7,0.6,0.8,0.7,0.9,0.8,1.0,0.9,0.8,1.0,0.9,1.1,1.0,1.2,1.1,1.0,1.2],
  [-0.1,-0.3,-0.2,-0.4,-0.3,-0.2,-0.4,-0.3,-0.5,-0.4,-0.3,-0.5,-0.4,-0.6,-0.5,-0.4,-0.6,-0.5,-0.7,-0.6,-0.5,-0.7,-0.6,-0.8,-0.7],
  [0.1,0.2,0.4,0.3,0.2,0.4,0.3,0.5,0.4,0.3,0.5,0.4,0.3,0.2,0.4,0.3,0.2,0.1,0.3,0.2,0.1,0.3,0.2,0.0,0.2],
  [-0.2,-0.3,-0.5,-0.4,-0.6,-0.5,-0.7,-0.9,-0.8,-1.0,-0.9,-1.1,-1.0,-1.2,-1.1,-1.0,-1.2,-1.1,-1.3,-1.2,-1.4,-1.3,-1.2,-1.4,-1.3],
  [0.0,0.2,0.1,0.0,0.2,0.1,0.3,0.2,0.1,0.3,0.2,0.4,0.3,0.2,0.4,0.3,0.5,0.4,0.3,0.5,0.4,0.6,0.5,0.4,0.6],
  [-0.1,0.0,-0.1,-0.3,-0.2,-0.1,-0.3,-0.2,-0.1,-0.3,-0.2,-0.4,-0.3,-0.2,-0.4,-0.3,-0.5,-0.4,-0.3,-0.5,-0.4,-0.6,-0.5,-0.4,-0.6],
  [0.2,0.1,0.3,0.2,0.1,0.3,0.2,0.4,0.3,0.5,0.4,0.3,0.5,0.4,0.6,0.5,0.4,0.6,0.5,0.7,0.6,0.5,0.7,0.6,0.9],
  [-0.3,-0.2,-0.4,-0.3,-0.5,-0.7,-0.6,-0.8,-0.7,-0.6,-0.8,-0.7,-0.9,-0.8,-1.0,-0.9,-0.8,-1.0,-0.9,-1.1,-1.0,-1.2,-1.1,-1.0,-1.1],
  [0.1,0.0,-0.1,0.1,0.0,0.2,0.1,0.0,0.2,0.1,-0.1,0.0,0.2,0.1,0.0,-0.2,-0.1,0.0,-0.2,-0.1,-0.3,-0.2,-0.1,-0.3,-0.2],
  [-0.4,-0.3,-0.5,-0.6,-0.8,-0.7,-0.9,-1.1,-1.2,-1.1,-1.3,-1.4,-1.3,-1.2,-1.4,-1.3,-1.2,-1.4,-1.3,-1.5,-1.4,-1.3,-1.5,-1.4,-1.6],
  [0.2,0.3,0.5,0.4,0.3,0.5,0.4,0.6,0.5,0.7,0.6,0.8,0.9,0.8,0.7,0.9,0.8,0.7,0.9,0.8,1.0,0.9,0.8,1.0,0.9],
  [0.0,-0.2,-0.1,-0.2,-0.4,-0.3,-0.5,-0.4,-0.3,-0.5,-0.4,-0.6,-0.5,-0.7,-0.6,-0.5,-0.7,-0.6,-0.8,-0.7,-0.9,-0.8,-0.7,-0.9,-0.8],
  [-0.2,-0.3,-0.2,-0.4,-0.3,-0.5,-0.7,-0.6,-0.8,-0.9,-1.1,-1.0,-1.2,-1.4,-1.5,-1.6,-1.5,-1.4,-1.3,-1.5,-1.6,-1.4,-1.3,-1.5,-1.4],
  [0.1,0.3,0.2,0.4,0.6,0.5,0.7,0.6,0.5,0.7,0.6,0.8,0.7,0.6,0.8,0.7,0.9,0.8,0.7,0.6,0.8,0.7,0.6,0.8,0.7],
  [0.1,0.3,0.0,0.2,0.4,0.1,0.3,0.5,0.2,0.4,0.6,0.3,0.5,0.2,0.4,0.6,0.3,0.5,0.7,0.4,0.6,0.3,0.5,0.7,0.4],
  [-0.2,0.0,-0.3,-0.1,-0.4,-0.2,0.0,-0.3,-0.1,-0.4,-0.2,-0.5,-0.3,-0.1,-0.4,-0.2,-0.5,-0.3,-0.6,-0.4,-0.2,-0.5,-0.3,-0.6,-0.4],
  [0.3,0.1,0.3,0.1,0.4,0.2,0.5,0.3,0.6,0.4,0.7,0.5,0.8,0.6,0.4,0.7,0.5,0.8,0.6,0.9,0.7,1.0,0.8,0.6,0.9],
  [0.0,0.2,-0.1,0.1,-0.2,0.0,-0.3,-0.1,0.1,-0.2,0.0,-0.3,-0.1,0.1,-0.2,0.0,-0.3,-0.1,0.1,-0.2,0.0,-0.3,-0.1,0.2,0.0],
  [-0.1,-0.3,-0.1,-0.3,-0.5,-0.3,-0.6,-0.4,-0.7,-0.5,-0.8,-0.6,-0.9,-0.7,-0.5,-0.8,-0.6,-0.9,-0.7,-1.0,-0.8,-0.6,-0.9,-0.7,-1.0],
  [0.2,0.4,0.2,0.5,0.3,0.6,0.4,0.2,0.5,0.3,0.6,0.4,0.7,0.5,0.3,0.6,0.4,0.7,0.5,0.8,0.6,0.4,0.7,0.5,0.8],
  [0.0,-0.2,0.0,0.2,0.0,0.3,0.1,-0.1,0.2,0.0,0.3,0.1,-0.1,0.2,0.0,0.3,0.1,0.4,0.2,0.0,0.3,0.1,0.4,0.2,0.5],
  [-0.3,-0.1,-0.3,-0.5,-0.3,-0.6,-0.4,-0.7,-0.5,-0.8,-0.6,-0.4,-0.7,-0.5,-0.8,-0.6,-0.9,-0.7,-1.0,-0.8,-1.1,-0.9,-0.7,-1.0,-0.8],
  [0.1,0.0,0.2,0.4,0.2,0.5,0.3,0.6,0.4,0.2,0.5,0.3,0.6,0.4,0.7,0.5,0.3,0.6,0.4,0.7,0.5,0.8,0.6,0.4,0.7],
  [-0.1,0.1,-0.1,-0.3,-0.1,-0.4,-0.2,0.0,-0.3,-0.1,-0.4,-0.2,-0.5,-0.3,-0.1,-0.4,-0.2,-0.5,-0.3,-0.6,-0.4,-0.2,-0.5,-0.3,-0.6],
  [0.2,0.0,0.2,0.0,0.3,0.1,0.4,0.2,0.0,0.3,0.1,0.4,0.2,0.5,0.3,0.1,0.4,0.2,0.5,0.3,0.6,0.4,0.2,0.5,0.3],
  [-0.2,-0.4,-0.2,-0.5,-0.3,-0.1,-0.4,-0.2,-0.5,-0.3,-0.6,-0.4,-0.7,-0.5,-0.8,-0.6,-0.4,-0.7,-0.5,-0.8,-0.6,-0.9,-0.7,-1.0,-0.8],
  [0.0,0.1,0.3,0.1,0.4,0.2,0.5,0.3,0.6,0.8,0.6,0.9,0.7,1.0,0.8,1.1,0.9,0.7,1.0,0.8,1.1,0.9,1.2,1.0,1.3],
  [-0.1,-0.2,0.0,-0.2,0.1,-0.1,0.2,0.0,-0.2,0.1,-0.1,0.2,0.0,-0.2,0.1,-0.1,0.2,0.0,-0.2,0.1,-0.1,0.2,0.0,-0.2,0.1],
  [0.1,-0.1,-0.3,-0.1,-0.4,-0.2,-0.5,-0.7,-0.5,-0.8,-0.6,-0.9,-1.1,-0.9,-1.2,-1.0,-0.8,-1.1,-0.9,-1.2,-1.0,-1.3,-1.1,-0.9,-1.2],
  [0.2,0.3,0.1,0.3,0.1,0.4,0.2,0.4,0.6,0.4,0.2,0.5,0.3,0.6,0.4,0.2,0.5,0.3,0.6,0.8,0.6,0.9,0.7,0.5,0.8],
  [-0.2,0.0,0.2,0.0,0.2,0.0,0.3,0.1,0.3,0.1,0.4,0.2,0.4,0.2,0.5,0.3,0.5,0.3,0.6,0.4,0.2,0.5,0.3,0.6,0.4],
  [0.0,-0.2,-0.4,-0.2,-0.4,-0.6,-0.4,-0.6,-0.8,-0.6,-0.8,-1.0,-0.8,-0.6,-0.9,-0.7,-1.0,-0.8,-1.1,-0.9,-0.7,-1.0,-0.8,-1.1,-0.9],
  [0.3,0.2,0.4,0.3,0.5,0.4,0.6,0.5,0.7,0.6,0.4,0.6,0.5,0.7,0.6,0.8,0.7,0.5,0.7,0.6,0.8,0.7,0.9,0.8,0.6],
  [-0.1,-0.2,-0.1,-0.3,-0.2,-0.4,-0.3,-0.2,-0.4,-0.3,-0.5,-0.4,-0.3,-0.5,-0.4,-0.6,-0.5,-0.4,-0.6,-0.5,-0.7,-0.6,-0.5,-0.7,-0.6],
  [0.1,0.2,0.0,0.2,0.0,-0.2,0.0,-0.2,0.1,-0.1,0.2,0.0,0.3,0.1,0.4,0.2,0.0,0.3,0.1,0.4,0.2,0.0,0.3,0.1,0.4],
  [-0.3,-0.2,-0.4,-0.2,-0.4,-0.3,-0.5,-0.6,-0.8,-0.7,-0.9,-0.8,-1.0,-1.1,-1.2,-1.0,-1.1,-1.3,-1.2,-1.4,-1.3,-1.5,-1.4,-1.6,-1.5],
  [0.2,0.5,0.3,0.6,0.4,0.7,0.5,0.8,0.6,0.9,0.7,0.5,0.8,0.6,0.9,0.7,1.0,0.8,0.6,0.9,0.7,1.0,0.8,1.1,0.9],
  [0.0,0.3,0.1,0.4,0.2,0.5,0.3,0.6,0.4,0.7,0.5,0.8,0.6,0.4,0.7,0.5,0.8,0.6,0.9,0.7,1.0,0.8,1.1,0.9,1.2],
  [-0.1,0.1,0.4,0.2,0.5,0.3,0.6,0.4,0.2,0.5,0.3,0.6,0.4,0.7,0.5,0.3,0.6,0.4,0.7,0.5,0.3,0.6,0.4,0.7,0.5],
  [0.3,0.0,0.2,-0.1,0.1,-0.2,0.0,-0.3,-0.1,-0.4,-0.2,-0.5,-0.3,-0.6,-0.4,-0.7,-0.5,-0.8,-0.6,-0.9,-0.7,-1.0,-0.8,-1.1,-0.9],
  [-0.2,-0.5,-0.3,-0.6,-0.4,-0.7,-0.5,-0.3,-0.6,-0.4,-0.7,-0.5,-0.8,-0.6,-0.9,-0.7,-0.5,-0.8,-0.6,-0.9,-0.7,-1.0,-0.8,-1.1,-0.9],
  [0.1,0.4,0.2,0.0,0.3,0.6,0.4,0.7,0.5,0.8,0.6,0.9,0.7,1.0,0.8,0.6,0.9,0.7,1.0,0.8,1.1,0.9,0.7,1.0,0.8],
  [0.0,-0.3,-0.6,-0.4,-0.7,-0.5,-0.8,-0.6,-0.9,-1.2,-1.0,-1.3,-1.1,-0.9,-1.2,-1.0,-1.3,-1.1,-1.4,-1.2,-1.0,-1.3,-1.1,-1.4,-1.2],
  [0.2,0.1,0.3,0.1,0.4,0.2,0.5,0.3,0.6,0.4,0.7,0.5,0.3,0.6,0.4,0.7,0.5,0.8,0.6,0.4,0.7,0.5,0.8,0.6,0.9],
  [-0.1,0.1,-0.2,0.0,-0.3,-0.1,-0.4,-0.2,-0.5,-0.3,-0.1,-0.4,-0.2,-0.5,-0.3,-0.6,-0.4,-0.2,-0.5,-0.3,-0.6,-0.4,-0.7,-0.5,-0.3],
  [0.1,0.3,0.5,0.3,0.6,0.4,0.7,0.9,0.7,1.0,0.8,1.1,0.9,0.7,1.0,0.8,1.1,0.9,1.2,1.0,0.8,1.1,0.9,1.2,1.0],
  [-0.3,-0.1,-0.4,-0.2,-0.5,-0.3,-0.6,-0.4,-0.7,-0.5,-0.8,-0.6,-0.9,-0.7,-1.0,-0.8,-1.1,-0.9,-1.2,-1.0,-1.3,-1.1,-1.4,-1.2,-1.5],
  [0.0,0.2,0.0,0.3,0.1,0.4,0.2,0.0,0.3,0.1,0.4,0.2,0.5,0.3,0.6,0.4,0.2,0.5,0.3,0.6,0.4,0.7,0.5,0.3,0.6]
];

// ---------- Industrial Production ----------
const ipTicks = [4, 2, 0, -2, -4];
const ipIrf = [0.0,-0.25,0.0,0.33,0.66,0.88,1.18,1.65,1.83,2.1,2.12,2.15,2.24,2.35,2.18,2.01,1.55,1.94,1.71,1.56,1.66,1.72,1.44,1.52,1.59];
const ipInnerUp = [0.3,0.4,0.75,1.1,1.5,2.0,2.5,3.05,3.2,3.45,3.6,3.75,3.85,4.0,3.8,3.5,3.05,3.3,3.1,2.95,3.15,3.25,2.85,2.85,2.85];
const ipOuterUp = [0.45,0.55,0.95,1.35,1.8,2.2,2.7,3.3,3.45,3.7,3.85,4.05,4.1,4.25,4.05,3.8,3.3,3.55,3.3,3.15,3.45,3.5,3.08,3.08,3.05];
const ipInnerLo = [-0.3,-0.85,-0.75,-0.5,-0.3,-0.2,-0.1,0.1,0.3,0.5,0.5,0.5,0.6,0.7,0.5,0.4,0.0,0.4,0.3,0.2,0.3,0.3,0.1,0.2,0.3];
const ipOuterLo = [-0.35,-0.95,-0.85,-0.65,-0.45,-0.35,-0.25,-0.05,0.15,0.35,0.35,0.35,0.45,0.55,0.35,0.25,-0.15,0.25,0.15,0.05,0.15,0.15,-0.05,0.05,0.15];
const ipPlacebo = [
  [0.3,0.5,0.8,0.9,1.1,1.2,1.4,1.6,2.0,2.3,2.5,2.8,3.0,3.4,3.7,3.3,3.0,2.8,2.6,2.4,2.2,2.3,2.1,2.0,1.8],
  [-0.1,-0.4,-0.7,-1.1,-1.6,-2.0,-2.2,-2.5,-2.8,-3.0,-2.9,-2.8,-2.9,-3.0,-2.9,-3.0,-2.8,-2.7,-2.9,-3.0,-3.1,-3.2,-3.3,-3.3,-3.5],
  [0.2,0.3,0.1,0.4,0.2,0.5,0.7,0.9,1.2,1.5,1.8,2.0,2.2,2.1,2.3,2.4,2.5,2.6,2.7,2.8,2.7,2.9,2.8,2.7,2.6],
  [0.0,-0.3,-0.5,-0.7,-1.0,-1.3,-1.7,-2.1,-2.6,-3.2,-3.6,-3.9,-4.2,-4.3,-4.1,-3.9,-3.6,-3.5,-3.3,-3.2,-3.1,-3.0,-2.9,-2.8,-2.7],
  [0.1,0.0,-0.2,-0.4,-0.9,-1.3,-1.7,-2.0,-2.6,-3.0,-3.4,-3.8,-4.0,-4.0,-3.9,-3.8,-3.6,-3.4,-3.3,-3.1,-3.0,-3.0,-3.1,-3.2,-3.3],
  [0.4,0.6,0.5,0.8,1.0,1.1,1.2,1.0,1.3,1.5,1.6,1.8,1.9,2.0,2.1,2.2,2.3,2.2,2.1,2.2,2.1,2.0,2.1,1.9,2.1],
  [-0.2,-0.1,-0.3,-0.5,-0.7,-0.8,-1.0,-1.3,-1.4,-1.6,-1.7,-1.9,-2.0,-2.2,-2.4,-2.3,-2.5,-2.7,-2.6,-2.8,-3.0,-2.9,-3.1,-3.0,-3.2],
  [0.2,0.4,0.3,0.5,0.4,0.6,0.5,0.7,0.9,1.1,1.0,1.2,1.4,1.3,1.5,1.4,1.6,1.5,1.7,1.6,1.8,1.7,1.6,1.8,1.7],
  [0.0,-0.2,-0.4,-0.6,-0.8,-1.2,-1.5,-1.8,-2.0,-2.2,-2.3,-2.2,-2.3,-2.4,-2.3,-2.5,-2.6,-2.4,-2.5,-2.6,-2.7,-2.5,-2.4,-2.5,-2.4],
  [0.3,0.2,0.4,0.6,0.5,0.7,0.9,0.8,0.7,0.9,0.8,1.0,0.9,1.1,1.0,0.9,1.1,1.0,0.8,1.0,0.9,0.7,0.9,0.8,1.0],
  [-0.1,-0.3,-0.2,-0.4,-0.6,-0.5,-0.7,-0.9,-0.8,-1.0,-0.9,-1.1,-1.0,-1.2,-1.1,-1.3,-1.2,-1.4,-1.6,-1.5,-1.7,-1.6,-1.8,-1.7,-1.9],
  [0.1,0.3,0.2,0.0,0.2,0.1,0.3,0.2,0.4,0.3,0.5,0.4,0.6,0.5,0.3,0.5,0.4,0.6,0.5,0.7,0.6,0.4,0.6,0.5,0.7],
  [0.2,0.0,-0.2,-0.5,-0.8,-1.1,-1.4,-1.7,-1.9,-2.2,-2.1,-2.3,-2.4,-2.6,-2.5,-2.7,-2.8,-2.6,-2.7,-2.9,-3.0,-2.8,-2.6,-2.5,-2.4],
  [-0.2,-0.4,-0.3,-0.5,-0.4,-0.6,-0.5,-0.7,-0.6,-0.8,-0.7,-0.9,-0.8,-0.6,-0.8,-0.7,-0.5,-0.7,-0.6,-0.8,-0.7,-0.9,-0.8,-1.0,-0.9],
  [0.3,0.5,0.7,0.9,0.8,1.0,1.2,1.1,1.3,1.5,1.4,1.6,1.8,1.7,1.9,2.1,2.0,2.2,2.4,2.3,2.5,2.4,2.3,2.4,2.3],
  [0.0,-0.1,-0.3,-0.2,-0.4,-0.6,-0.8,-1.0,-1.2,-1.4,-1.6,-1.8,-1.7,-1.9,-2.1,-2.0,-2.2,-2.1,-2.3,-2.2,-2.0,-2.2,-2.1,-2.3,-2.1],
  [0.1,0.2,0.4,0.3,0.5,0.4,0.3,0.5,0.4,0.6,0.5,0.4,0.6,0.5,0.7,0.6,0.5,0.7,0.6,0.8,0.7,0.9,0.8,1.0,0.9],
  [-0.3,-0.5,-0.7,-0.9,-1.1,-1.4,-1.6,-1.9,-2.2,-2.5,-2.8,-3.1,-3.3,-3.1,-3.0,-3.2,-3.1,-2.9,-3.0,-2.8,-2.9,-2.7,-2.8,-2.9,-3.0],
  [0.2,0.3,0.1,0.2,0.0,0.1,-0.1,0.0,-0.2,-0.1,-0.3,-0.2,-0.4,-0.3,-0.1,-0.3,-0.2,-0.4,-0.3,-0.5,-0.4,-0.6,-0.5,-0.7,-0.6],
  [0.4,0.6,0.8,1.0,1.2,1.3,1.5,1.6,1.8,1.9,2.0,2.1,2.2,2.1,2.3,2.2,2.4,2.5,2.3,2.4,2.2,2.1,2.2,2.0,2.1],
  [-0.1,-0.2,-0.1,-0.3,-0.2,-0.4,-0.3,-0.5,-0.4,-0.6,-0.5,-0.7,-0.6,-0.8,-0.9,-1.1,-1.0,-1.2,-1.4,-1.3,-1.5,-1.4,-1.6,-1.5,-1.7],
  [0.0,0.2,0.1,0.3,0.2,0.0,0.2,0.1,-0.1,0.1,0.0,-0.2,0.0,-0.1,0.1,0.0,-0.2,0.0,-0.1,0.1,0.0,0.2,0.1,0.3,0.2],
  [0.2,0.1,0.0,-0.2,-0.4,-0.7,-0.9,-1.1,-1.3,-1.2,-1.4,-1.6,-1.5,-1.7,-1.9,-1.8,-1.6,-1.8,-1.7,-1.9,-2.1,-2.0,-2.2,-2.4,-2.3],
  [-0.2,0.0,0.2,0.4,0.3,0.5,0.7,0.6,0.8,1.0,0.9,1.1,1.3,1.2,1.4,1.3,1.5,1.4,1.2,1.4,1.3,1.5,1.4,1.6,1.5],
  [0.1,-0.1,-0.3,-0.2,-0.4,-0.3,-0.5,-0.4,-0.6,-0.5,-0.7,-0.6,-0.8,-0.7,-0.9,-0.8,-1.0,-0.9,-1.1,-1.0,-1.2,-1.1,-1.3,-1.2,-1.4],
  [0.3,0.4,0.3,0.5,0.7,0.6,0.8,0.7,0.9,1.0,1.2,1.1,1.0,1.2,1.1,1.3,1.2,1.1,1.3,1.2,1.0,1.2,1.1,1.3,1.2],
  [-0.2,-0.3,-0.5,-0.4,-0.6,-0.8,-1.0,-1.2,-1.4,-1.3,-1.5,-1.7,-1.9,-2.1,-2.0,-1.9,-2.1,-2.0,-1.8,-2.0,-1.9,-2.1,-2.0,-2.2,-2.0],
  [0.1,0.2,0.0,0.1,-0.1,0.0,0.2,0.1,0.3,0.2,0.4,0.6,0.5,0.7,0.6,0.8,0.7,0.9,0.8,0.6,0.8,0.7,0.9,0.8,0.6],
  [0.0,-0.2,-0.4,-0.3,-0.5,-0.7,-0.6,-0.8,-1.0,-0.9,-1.1,-1.0,-1.2,-1.1,-1.3,-1.2,-1.4,-1.3,-1.2,-1.4,-1.3,-1.5,-1.4,-1.3,-1.2],
  [0.5,0.7,0.6,0.8,1.0,0.9,1.1,1.3,1.2,1.4,1.6,1.5,1.7,1.9,1.8,2.0,2.2,2.1,2.3,2.5,2.7,2.8,2.6,2.5,2.6],
  [0.2,0.1,0.3,0.2,0.4,0.3,0.5,0.4,0.2,0.4,0.3,0.5,0.4,0.6,0.5,0.3,0.5,0.4,0.6,0.5,0.7,0.6,0.4,0.6,0.5],
  [-0.1,-0.2,0.0,-0.2,-0.1,-0.3,-0.2,-0.4,-0.3,-0.5,-0.4,-0.2,-0.4,-0.3,-0.5,-0.4,-0.6,-0.5,-0.3,-0.5,-0.4,-0.6,-0.5,-0.7,-0.6],
  [0.3,0.4,0.6,0.5,0.7,0.6,0.8,0.7,0.9,0.8,0.6,0.8,0.7,0.9,0.8,1.0,0.9,0.7,0.9,0.8,1.0,0.9,1.1,1.0,0.8],
  [0.0,-0.1,-0.3,-0.2,-0.4,-0.3,-0.5,-0.4,-0.6,-0.8,-0.7,-0.9,-0.8,-1.0,-0.9,-0.7,-0.9,-0.8,-1.0,-0.9,-1.1,-1.0,-0.8,-1.0,-0.9],
  [0.1,0.2,0.1,0.3,0.2,0.4,0.6,0.5,0.7,0.6,0.8,0.7,0.9,1.1,1.0,1.2,1.1,1.3,1.2,1.4,1.3,1.1,1.3,1.2,1.4],
  [-0.2,-0.3,-0.2,-0.4,-0.6,-0.5,-0.7,-0.6,-0.8,-0.7,-0.9,-1.1,-1.0,-1.2,-1.1,-1.3,-1.2,-1.0,-1.2,-1.1,-1.3,-1.2,-1.4,-1.3,-1.1],
  [0.2,0.0,0.2,0.1,-0.1,0.1,0.0,0.2,0.1,0.3,0.2,0.0,0.2,0.1,0.3,0.2,0.4,0.3,0.1,0.3,0.2,0.4,0.3,0.5,0.4],
  [0.0,0.1,-0.1,0.0,-0.2,-0.1,-0.3,-0.2,-0.4,-0.3,-0.1,-0.3,-0.2,-0.4,-0.3,-0.5,-0.4,-0.2,-0.4,-0.3,-0.5,-0.4,-0.6,-0.5,-0.3],
  [0.4,0.3,0.5,0.7,0.6,0.8,0.7,0.9,1.1,1.0,1.2,1.1,1.3,1.2,1.4,1.3,1.1,1.3,1.2,1.4,1.3,1.5,1.4,1.2,1.4],
  [-0.1,-0.3,-0.5,-0.7,-0.6,-0.8,-1.0,-0.9,-1.1,-1.3,-1.2,-1.4,-1.6,-1.5,-1.7,-1.6,-1.8,-1.7,-1.9,-1.8,-1.6,-1.8,-1.7,-1.9,-1.8],
  [0.1,0.0,0.2,0.1,0.3,0.2,0.0,0.2,0.1,0.3,0.2,0.4,0.3,0.5,0.4,0.2,0.4,0.3,0.5,0.4,0.6,0.5,0.7,0.6,0.8],
  [0.2,0.1,-0.1,-0.3,-0.2,-0.4,-0.3,-0.5,-0.7,-0.6,-0.8,-0.7,-0.5,-0.7,-0.6,-0.8,-0.7,-0.9,-0.8,-1.0,-0.9,-0.7,-0.9,-0.8,-1.0],
  [-0.1,0.1,0.3,0.2,0.4,0.3,0.5,0.4,0.6,0.5,0.7,0.9,0.8,1.0,0.9,0.7,0.9,0.8,1.0,0.9,1.1,1.0,0.8,1.0,0.9],
  [0.0,-0.2,-0.1,-0.3,-0.2,0.0,-0.2,-0.1,0.1,-0.1,0.0,-0.2,-0.1,-0.3,-0.2,0.0,-0.2,-0.1,-0.3,-0.2,-0.4,-0.3,-0.1,-0.3,-0.2],
  [0.3,0.2,0.0,-0.2,-0.1,-0.3,-0.5,-0.4,-0.6,-0.5,-0.7,-0.6,-0.8,-0.7,-0.9,-1.1,-1.0,-1.2,-1.1,-1.3,-1.2,-1.4,-1.3,-1.5,-1.4],
  [0.1,0.3,0.2,0.4,0.3,0.5,0.4,0.6,0.5,0.7,0.6,0.8,0.7,0.5,0.7,0.6,0.8,0.7,0.9,0.8,1.0,0.9,0.7,0.9,0.8],
  [-0.2,-0.1,-0.3,-0.2,-0.4,-0.3,-0.2,-0.4,-0.3,-0.5,-0.4,-0.6,-0.5,-0.4,-0.6,-0.5,-0.7,-0.6,-0.8,-0.7,-0.9,-0.8,-1.0,-0.9,-1.1],
  [0.0,0.2,0.4,0.3,0.5,0.4,0.3,0.1,0.3,0.2,0.4,0.3,0.5,0.4,0.2,0.4,0.3,0.1,0.3,0.2,0.4,0.3,0.5,0.4,0.2],
  [0.2,0.0,-0.2,-0.4,-0.6,-0.8,-0.7,-0.9,-1.1,-1.0,-1.2,-1.4,-1.3,-1.5,-1.4,-1.2,-1.4,-1.3,-1.5,-1.4,-1.6,-1.5,-1.3,-1.5,-1.4],
  [-0.1,0.0,0.2,0.4,0.6,0.8,0.7,0.9,1.1,1.3,1.5,1.4,1.6,1.8,1.7,1.9,1.8,1.6,1.8,1.7,1.9,1.8,2.0,1.9,1.7],
  [0.1,0.4,0.2,0.5,0.8,0.6,0.9,0.7,1.0,0.8,1.1,0.9,1.2,1.0,1.3,1.1,0.9,1.2,1.0,1.3,1.1,1.4,1.2,1.0,1.3],
  [-0.1,-0.3,-0.6,-0.4,-0.7,-0.5,-0.8,-0.6,-0.9,-0.7,-1.0,-0.8,-0.6,-0.9,-0.7,-1.0,-0.8,-1.1,-0.9,-1.2,-1.0,-0.8,-1.1,-0.9,-1.2],
  [0.2,0.0,0.3,0.1,0.4,0.2,0.5,0.3,0.6,0.4,0.2,0.5,0.3,0.6,0.4,0.7,0.5,0.3,0.6,0.4,0.7,0.5,0.8,0.6,0.4],
  [0.0,-0.2,0.0,-0.3,-0.1,-0.4,-0.2,-0.5,-0.3,-0.6,-0.4,-0.7,-0.5,-0.8,-0.6,-0.4,-0.7,-0.5,-0.8,-0.6,-0.9,-0.7,-1.0,-0.8,-0.6],
  [0.3,0.5,0.3,0.6,0.4,0.7,0.9,1.2,1.0,1.3,1.1,1.4,1.2,1.5,1.3,1.6,1.4,1.2,1.5,1.3,1.6,1.4,1.7,1.5,1.3],
  [-0.2,0.0,-0.2,0.1,-0.1,0.2,0.0,0.3,0.1,-0.1,0.2,0.0,0.3,0.1,-0.1,0.2,0.0,0.3,0.1,-0.1,0.2,0.0,0.3,0.1,0.4],
  [0.1,-0.1,-0.4,-0.7,-0.9,-1.2,-1.0,-1.3,-1.1,-1.4,-1.2,-1.5,-1.7,-1.5,-1.8,-1.6,-1.9,-1.7,-2.0,-1.8,-2.1,-1.9,-2.2,-2.0,-2.3],
  [0.2,0.4,0.7,0.5,0.8,0.6,0.4,0.7,0.5,0.8,0.6,0.9,0.7,0.5,0.8,0.6,0.9,0.7,1.0,0.8,0.6,0.9,0.7,1.0,0.8],
  [-0.1,0.1,-0.1,-0.4,-0.2,-0.5,-0.3,-0.1,-0.4,-0.2,-0.5,-0.3,-0.6,-0.4,-0.2,-0.5,-0.3,-0.6,-0.4,-0.7,-0.5,-0.3,-0.6,-0.4,-0.7],
  [0.0,0.3,0.1,0.4,0.2,0.5,0.3,0.6,0.8,0.6,0.9,0.7,1.0,0.8,1.1,0.9,1.2,1.0,0.8,1.1,0.9,1.2,1.0,1.3,1.1],
  [0.1,-0.2,0.0,-0.3,-0.5,-0.8,-0.6,-0.9,-0.7,-1.0,-0.8,-1.1,-0.9,-1.2,-1.0,-1.3,-1.1,-1.4,-1.2,-1.5,-1.3,-1.6,-1.4,-1.7,-1.5],
  [0.3,0.2,0.4,0.2,0.5,0.3,0.1,0.4,0.2,0.0,0.3,0.1,-0.1,0.2,0.0,0.3,0.1,-0.1,0.2,0.0,-0.2,0.1,-0.1,-0.3,0.0]
];

// Panel layout: plot rectangles and value ranges
const panels = [
  { title: "Transfers", box: [70, 519, 43, 304], yDomain: [-10, 30], ticks: transfersTicks,
    irf: transfersIrf, innerUp: transfersInnerUp, outerUp: transfersOuterUp,
    innerLo: transfersInnerLo, outerLo: transfersOuterLo, placebo: transfersPlacebo },
  { title: "Retail Sales", box: [681, 1130, 43, 304], yDomain: [-2.47, 4], ticks: retailTicks,
    irf: retailIrf, innerUp: retailInnerUp, outerUp: retailOuterUp,
    innerLo: retailInnerLo, outerLo: retailOuterLo, placebo: retailPlacebo },
  { title: "Personal Consumption Expenditures", box: [70, 518, 436, 695], yDomain: [-2.1, 3], ticks: pceTicks,
    irf: pceIrf, innerUp: pceInnerUp, outerUp: pceOuterUp,
    innerLo: pceInnerLo, outerLo: pceOuterLo, placebo: pcePlacebo },
  { title: "Industrial Production", box: [681, 1130, 437, 697], yDomain: [-4.37, 4.3], ticks: ipTicks,
    irf: ipIrf, innerUp: ipInnerUp, outerUp: ipOuterUp,
    innerLo: ipInnerLo, outerLo: ipOuterLo, placebo: ipPlacebo }
];

const svg = d3.select("#chart");

panels.forEach((p, k) => {
  const [x0, x1, y0, y1] = p.box;
  const x = d3.scaleLinear().domain([0, 24]).range([x0, x1]);
  const y = d3.scaleLinear().domain(p.yDomain).range([y1, y0]);
  const g = svg.append("g");

  const clipId = "clip" + k;
  svg.append("clipPath").attr("id", clipId)
    .append("rect").attr("x", x0).attr("y", y0).attr("width", x1 - x0).attr("height", y1 - y0);

  // grid
  g.append("g").selectAll("line").data(xTicks.slice(1, -1)).join("line")
    .attr("x1", d => x(d)).attr("x2", d => x(d)).attr("y1", y0).attr("y2", y1)
    .attr("stroke", "#e4eef1").attr("stroke-width", 1);
  g.append("g").selectAll("line").data(p.ticks).join("line")
    .attr("x1", x0).attr("x2", x1).attr("y1", d => y(d)).attr("y2", d => y(d))
    .attr("stroke", "#e4eef1").attr("stroke-width", 1);

  const plot = g.append("g").attr("clip-path", `url(#${clipId})`);

  const band = (lo, up) => d3.area()
    .x((d, i) => x(months[i]))
    .y0((d, i) => y(lo[i]))
    .y1((d, i) => y(up[i]))(months);

  plot.append("path").attr("d", band(p.outerLo, p.outerUp)).attr("fill", "#dcebf6");
  plot.append("path").attr("d", band(p.innerLo, p.innerUp)).attr("fill", "#93c4e4");

  const line = d3.line().x((d, i) => x(months[i])).y(d => y(d));

  plot.append("g").selectAll("path").data(p.placebo).join("path")
    .attr("d", line).attr("fill", "none")
    .attr("stroke", "#868686").attr("stroke-width", 1.15);

  plot.append("line")
    .attr("x1", x0).attr("x2", x1).attr("y1", y(0)).attr("y2", y(0))
    .attr("stroke", "#000").attr("stroke-width", 1.2);

  plot.append("path").attr("d", line(p.irf)).attr("fill", "none")
    .attr("stroke", "#000").attr("stroke-width", 2.6).attr("stroke-linejoin", "round");

  // frame
  g.append("rect").attr("x", x0).attr("y", y0).attr("width", x1 - x0).attr("height", y1 - y0)
    .attr("fill", "none").attr("stroke", "#111").attr("stroke-width", 1.8);

  // y axis ticks and rotated labels
  g.append("g").selectAll("line").data(p.ticks).join("line")
    .attr("x1", x0 - 7).attr("x2", x0).attr("y1", d => y(d)).attr("y2", d => y(d))
    .attr("stroke", "#111").attr("stroke-width", 1.2);
  g.append("g").selectAll("text").data(p.ticks).join("text")
    .attr("transform", d => `translate(${x0 - 18},${y(d)}) rotate(-90)`)
    .attr("text-anchor", "middle").attr("font-size", 21)
    .text(d => d);

  // x axis ticks and labels
  g.append("g").selectAll("line").data(xTicks).join("line")
    .attr("x1", d => x(d)).attr("x2", d => x(d)).attr("y1", y1).attr("y2", y1 + 7)
    .attr("stroke", "#111").attr("stroke-width", 1.2);
  g.append("g").selectAll("text").data(xTicks).join("text")
    .attr("x", d => x(d)).attr("y", y1 + 26)
    .attr("text-anchor", "middle").attr("font-size", 21)
    .text(d => d);

  // titles
  g.append("text").attr("x", (x0 + x1) / 2).attr("y", y0 - 17)
    .attr("text-anchor", "middle").attr("font-size", 25).text(p.title);
  g.append("text").attr("x", (x0 + x1) / 2).attr("y", y1 + 53)
    .attr("text-anchor", "middle").attr("font-size", 25).text("Months");
  g.append("text")
    .attr("transform", `translate(${x0 - 46},${(y0 + y1) / 2}) rotate(-90)`)
    .attr("text-anchor", "middle").attr("font-size", 22).text("%");
});
</script>
</body>
</html>
